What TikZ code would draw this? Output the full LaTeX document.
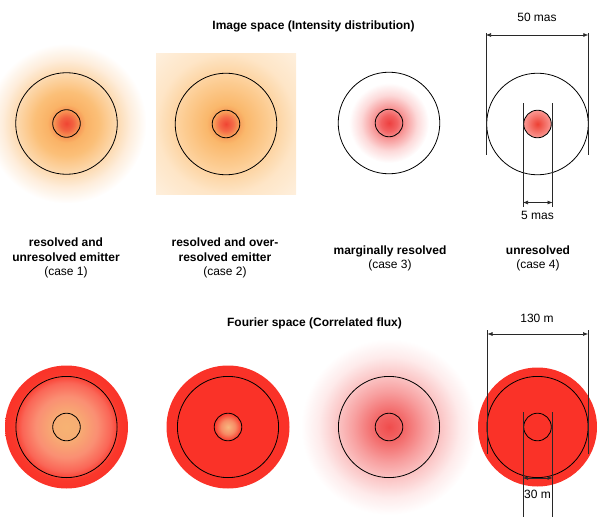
\documentclass[tikz,border=0pt]{standalone}
\usepackage{fontspec}
\setmainfont{Liberation Sans}
\usetikzlibrary{arrows.meta}
\definecolor{discred}{RGB}{250,50,40}
\definecolor{dimgray}{RGB}{40,40,40}
% shading radius 25bp = path radius
\pgfdeclareradialshading{imgA}{\pgfpointorigin}{rgb(0bp)=(0.94,0.27,0.20); rgb(2bp)=(0.95,0.38,0.25); rgb(4bp)=(0.97,0.58,0.33); rgb(6bp)=(0.98,0.70,0.40); rgb(10bp)=(0.985,0.75,0.47); rgb(15bp)=(0.99,0.84,0.66); rgb(20bp)=(0.995,0.93,0.86); rgb(25bp)=(1,1,1); rgb(50bp)=(1,1,1)}
\pgfdeclareradialshading{imgB}{\pgfpointorigin}{rgb(0bp)=(0.94,0.27,0.20); rgb(2.5bp)=(0.96,0.42,0.28); rgb(4.5bp)=(0.97,0.62,0.35); rgb(7bp)=(0.98,0.72,0.42); rgb(15bp)=(0.99,0.80,0.57); rgb(25bp)=(0.995,0.90,0.78); rgb(36bp)=(0.997,0.94,0.87); rgb(50bp)=(0.997,0.94,0.87)}
\pgfdeclareradialshading{imgC}{\pgfpointorigin}{rgb(0bp)=(0.93,0.25,0.25); rgb(5bp)=(0.95,0.38,0.38); rgb(10bp)=(0.97,0.60,0.60); rgb(17.5bp)=(0.99,0.85,0.85); rgb(25bp)=(1,1,1); rgb(50bp)=(1,1,1)}
\pgfdeclareradialshading{imgD}{\pgfpointorigin}{rgb(0bp)=(0.93,0.25,0.20); rgb(25bp)=(0.98,0.60,0.58); rgb(50bp)=(0.98,0.60,0.58)}
\pgfdeclareradialshading{fouA}{\pgfpointorigin}{rgb(0bp)=(0.97,0.70,0.45); rgb(5bp)=(0.97,0.68,0.45); rgb(12.5bp)=(0.98,0.56,0.45); rgb(18bp)=(0.98,0.40,0.34); rgb(21.5bp)=(0.98,0.22,0.17); rgb(25bp)=(0.98,0.20,0.16); rgb(50bp)=(0.98,0.20,0.16)}
\pgfdeclareradialshading{fouB}{\pgfpointorigin}{rgb(0bp)=(0.97,0.72,0.50); rgb(12.5bp)=(0.97,0.55,0.40); rgb(25bp)=(0.98,0.20,0.16); rgb(50bp)=(0.98,0.20,0.16)}
\pgfdeclareradialshading{fouC}{\pgfpointorigin}{rgb(0bp)=(0.94,0.30,0.30); rgb(4bp)=(0.95,0.40,0.40); rgb(10bp)=(0.97,0.62,0.62); rgb(15bp)=(0.985,0.78,0.78); rgb(20bp)=(0.995,0.92,0.92); rgb(25bp)=(1,1,1); rgb(50bp)=(1,1,1)}
\tikzset{
  ring/.style={draw=black, line width=0.8pt},
  dimline/.style={draw=dimgray, line width=0.6pt},
  dimarrow/.style={draw=dimgray, line width=0.6pt, {Latex[length=5pt,width=4pt]}-{Latex[length=5pt,width=4pt]}},
  title/.style={font=\fontsize{12}{14.5}\selectfont\bfseries, inner sep=0pt},
  caselabel/.style={font=\fontsize{12}{14.7}\selectfont, align=center, inner sep=0pt},
  dimlabel/.style={font=\fontsize{12}{14.5}\selectfont, inner sep=0pt}
}
\begin{document}
\begin{tikzpicture}[x=1pt,y=-1pt]
\useasboundingbox (0,0) rectangle (600,519);
% centres
\coordinate (c1) at (66.5,123.5);
\coordinate (c2) at (226,124);
\coordinate (c3) at (389,123);
\coordinate (c4) at (537.5,124);
\coordinate (f1) at (66.5,427);
\coordinate (f2) at (228,427);
\coordinate (f3) at (389,427);
\coordinate (f4) at (537.5,427);
% titles
\node[title] (t1) at (313.5,26) {Image space (Intensity distribution)};
\node[title] (t2) at (314.5,323) {Fourier space (Correlated flux)};
% ---- image space ----
\shade[shading=imgA] (c1) circle[radius=80pt];
\shade[shading=imgB] (156,54) rectangle (296,194);
\shade[shading=imgC] (c3) circle[radius=40pt];
\shade[shading=imgD] (c4) circle[radius=13.8pt];
\foreach \c in {c1,c2,c3,c4}{
  \draw[ring] (\c) circle[radius=50.8pt];
  \draw[ring] (\c) circle[radius=13.8pt];
}
% ---- Fourier space ----
\shade[shading=fouA] (f1) circle[radius=61.5pt];
\fill[discred] (f2) circle[radius=61.5pt];
\shade[shading=fouB] (f2) circle[radius=14pt];
\shade[shading=fouC] (f3) circle[radius=88pt];
\fill[discred] (f4) circle[radius=59.5pt];
\foreach \c in {f1,f2,f3,f4}{
  \draw[ring] (\c) circle[radius=50.6pt];
  \draw[ring] (\c) circle[radius=13.8pt];
}
% case labels
\node[caselabel] (l1) at (66,258) {\textbf{resolved and}\\\textbf{unresolved emitter}\\(case 1)};
\node[caselabel] (l2) at (225,258) {\textbf{resolved and over-}\\\textbf{resolved emitter}\\(case 2)};
\node[caselabel] (l3) at (390,258.5) {\textbf{marginally resolved}\\(case 3)};
\node[caselabel] (l4) at (538,258.5) {\textbf{unresolved}\\(case 4)};
% ---- dimensions, image space ----
\coordinate (a1t) at (486,33);   \coordinate (a1b) at (486,155);
\coordinate (a2t) at (588.3,33); \coordinate (a2b) at (588.3,155);
\coordinate (a1m) at (486,35);   \coordinate (a2m) at (588.3,35);
\draw[dimline] (a1t) -- (a1b);
\draw[dimline] (a2t) -- (a2b);
\draw[dimarrow] (a1m) -- (a2m);
\node[dimlabel] (m50) at (537,17) {50 mas};
\coordinate (b1t) at (523,103);   \coordinate (b1b) at (523,207);
\coordinate (b2t) at (552.5,103); \coordinate (b2b) at (552.5,207);
\coordinate (b1m) at (523,202.5); \coordinate (b2m) at (552.5,202.5);
\draw[dimline] (b1t) -- (b1b);
\draw[dimline] (b2t) -- (b2b);
\draw[dimarrow] (b1m) -- (b2m);
\node[dimlabel] (m5) at (537.5,215.5) {5 mas};
% ---- dimensions, Fourier space ----
\coordinate (p1t) at (487.5,330); \coordinate (p1b) at (487.5,454);
\coordinate (p2t) at (588,330);   \coordinate (p2b) at (588,454);
\coordinate (p1m) at (487.5,334); \coordinate (p2m) at (588,334);
\draw[dimline] (p1t) -- (p1b);
\draw[dimline] (p2t) -- (p2b);
\draw[dimarrow] (p1m) -- (p2m);
\node[dimlabel] (m130) at (537,318) {130 m};
\coordinate (q1t) at (523,412);   \coordinate (q1b) at (523,517);
\coordinate (q2t) at (552.5,412); \coordinate (q2b) at (552.5,517);
\coordinate (q1m) at (523,478);   \coordinate (q2m) at (552.5,478);
\draw[dimline] (q1t) -- (q1b);
\draw[dimline] (q2t) -- (q2b);
\draw[dimarrow] (q1m) -- (q2m);
\node[dimlabel] (m30) at (537.5,494) {30 m};
\end{tikzpicture}
\end{document}
